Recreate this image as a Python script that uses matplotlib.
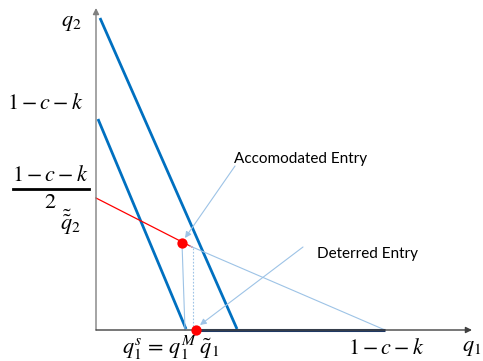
import matplotlib

matplotlib.use("Agg")
import matplotlib.pyplot as plt

# Sketch coordinates (origin at the axes corner).
outer_x = [4, 141]
outer_y = [312, 1]
inner_x = [2, 90]
inner_y = [211, 1]
reaction_x = [0, 96]
reaction_y = [132, 83]
faint_x = [94, 289]
faint_y = [84, 0]
deter_x = [100, 289]
deter_y = [0, 0]
drop_x = [86, 89]
drop_y = [87, 0]
dotted_x = [97, 97]
dotted_y = [82, 0]
points_x = [86, 100]
points_y = [87, 0]

accom_text = (138, 171)
accom_start = (139, 164)
accom_tip = (89, 92)
deter_text = (221, 76)
deter_start = (207, 83)
deter_tip = (104, 5)

plt.rcParams["mathtext.fontset"] = "stix"

fig = plt.figure(figsize=(4.83, 3.61), dpi=100)
ax = fig.add_axes([0, 0, 1, 1])
ax.set_xlim(-96, 387)
ax.set_ylim(-31, 330)
ax.axis("off")

light = "#9DC3E6"

# axes with arrow heads
ax.annotate("", xy=(0, 322), xytext=(0, 0),
            arrowprops=dict(arrowstyle="-|>", color="#808080", lw=1.0,
                            mutation_scale=9, shrinkA=0, shrinkB=0))
ax.annotate("", xy=(376, 0), xytext=(0, 0),
            arrowprops=dict(arrowstyle="-|>", color="#404040", lw=1.0,
                            mutation_scale=9, shrinkA=0, shrinkB=0))

ax.plot(outer_x, outer_y, color="#0070C0", lw=2.0, solid_capstyle="butt")
ax.plot(inner_x, inner_y, color="#0070C0", lw=2.0, solid_capstyle="butt")
ax.plot(reaction_x, reaction_y, color="#FF0000", lw=0.9)
ax.plot(faint_x, faint_y, color=light, lw=0.8)
ax.plot(deter_x, deter_y, color="#1F3864", lw=2.2, solid_capstyle="butt")
ax.plot(drop_x, drop_y, color=light, lw=0.8)
ax.plot(dotted_x, dotted_y, color=light, lw=0.8, ls=(0, (1.5, 1.5)))
ax.scatter(points_x, points_y, s=55, color="#FF0000", zorder=5, linewidths=0)

ax.annotate("", xy=accom_tip, xytext=accom_start,
            arrowprops=dict(arrowstyle="-|>", color=light, lw=0.8,
                            mutation_scale=9, shrinkA=0, shrinkB=0))
ax.text(accom_text[0], accom_text[1], "Accomodated Entry", fontsize=11,
        family="Lato", va="center", ha="left")
ax.annotate("", xy=deter_tip, xytext=deter_start,
            arrowprops=dict(arrowstyle="-|>", color=light, lw=0.8,
                            mutation_scale=9, shrinkA=0, shrinkB=0))
ax.text(deter_text[0], deter_text[1], "Deterred Entry", fontsize=11,
        family="Lato", va="center", ha="left")

fs = 16
expr = r"$1-c-k$"
ax.text(-14, 307, r"$q_2$", fontsize=fs, ha="right", va="center")
ax.text(-89, 227, expr, fontsize=fs, ha="left", va="center")
ax.text(-46, 155, expr, fontsize=fs, ha="center", va="center")
ax.plot([-83, -7], [141, 141], color="black", lw=2.0, clip_on=False)
ax.text(-46, 128, r"$2$", fontsize=fs, ha="center", va="center")
ax.text(-26, 108, r"$\tilde{\tilde{q}}_2$", fontsize=fs, ha="center", va="center")

ax.text(26, -18, r"$q_1^s\,=\,q_1^M\;\tilde{q}_1$", fontsize=fs, ha="left", va="center")
ax.text(290, -18, expr, fontsize=fs, ha="center", va="center")
ax.text(376, -18, r"$q_1$", fontsize=fs, ha="center", va="center")

fig.savefig("out.png", dpi=100)
plt.close(fig)
